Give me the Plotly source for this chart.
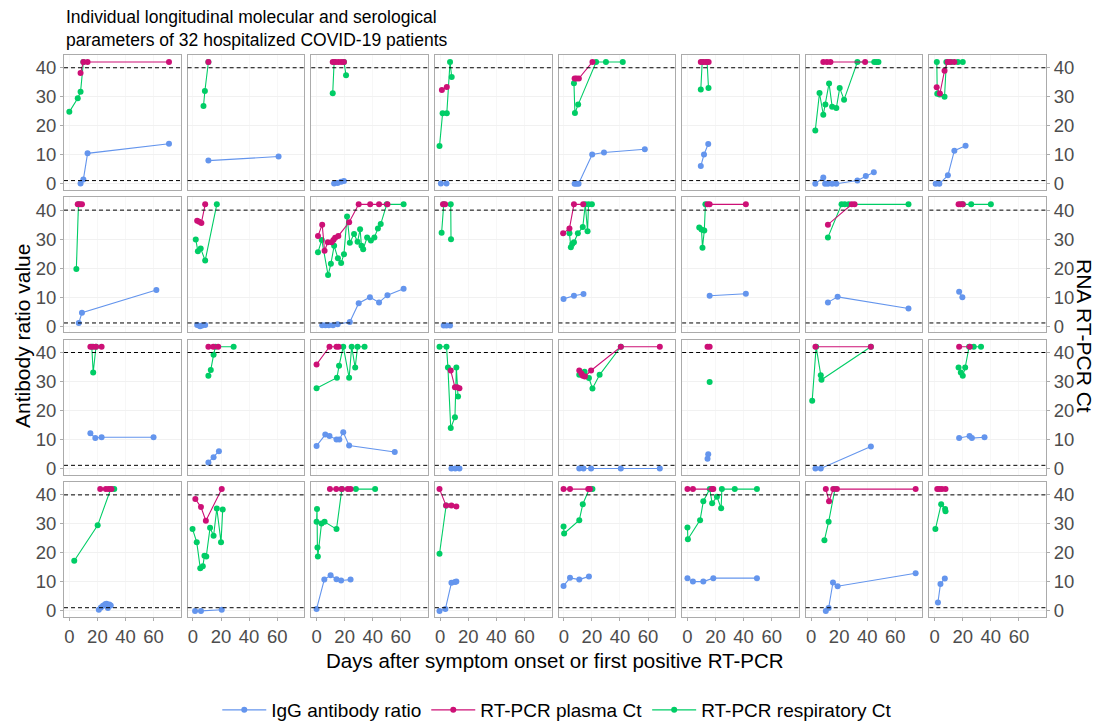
import plotly.graph_objects as go

# ---------------- data (one inner list per patient, row-major 4 x 8 facets) ----------------
igg_days = [
    [8, 10, 13, 71], [11, 61], [12.5, 15, 17.5, 19.5], [0.5, 4.5],
    [7.7, 9, 10.5, 20.2, 28.6, 57.7], [9.5, 11.8, 14.8], [3, 8.7, 10, 12, 15, 18, 33, 39, 44.7], [0.7, 3.3, 9.4, 14, 22],
    [6.7, 9, 62], [3, 5, 6.5, 8.7], [4, 6.3, 8.7, 11.7, 15, 23.7, 30, 38, 44.5, 50.5, 62], [2.5, 4.5, 7],
    [-0.2, 7.2, 14], [15.8, 41.6], [12, 18.9, 69.4], [17.4, 19.7],
    [15, 18.5, 23, 60], [11, 14.7, 18.5], [0, 6.2, 9.2, 14.2, 16.2, 19, 23.2, 55.7], [8, 10.7, 13.7],
    [11, 14, 19.4, 40.6, 68.4], [14.3, 14.8], [3.1, 6.9, 42.6], [17.4, 24.8, 26.5, 35.5],
    [21, 22.5, 24, 25.5, 26.5, 27.5, 28.5, 29.5], [1.5, 5.7, 20.5], [0, 5.5, 10, 14.2, 17.5, 24.2], [-0.5, 3.7, 8, 10.5, 11.5],
    [-0.2, 4.4, 11, 17.9], [0, 3.9, 11.3, 18.4, 49.5], [10.5, 12.5, 15.6, 18.9, 74.5], [2.3, 4.1, 7.2],
]
igg_vals = [
    [0.1, 1.5, 10.5, 13.8], [8.0, 9.4], [0.1, 0.3, 0.7, 1.0], [0.1, 0.1],
    [0, 0, 0, 10.1, 10.8, 11.9], [6.1, 10.1, 13.7], [0, 2.2, 0, 0, 0, 0, 1.1, 2.7, 4.0], [0, 0, 2.9, 11.4, 13.1],
    [1.1, 4.6, 12.5], [0.4, 0, 0.2, 0.4], [0.3, 0.3, 0.3, 0.3, 0.7, 1.4, 7.9, 10, 8.2, 10.7, 12.9], [0.2, 0.2, 0.2],
    [9.4, 10.5, 11.1], [10.5, 11.2], [8.2, 10.1, 6.1], [11.9, 10],
    [12.2, 10.5, 10.8, 10.8], [2.1, 3.9, 6], [7.8, 11.7, 11.2, 10, 10, 12.5, 7.9, 5.7], [0, 0, 0],
    [0, 0, 0, 0, 0], [3.4, 4.9], [0, 0, 7.6], [10.5, 11.2, 10.5, 10.8],
    [0.4, 1.2, 1.8, 2.3, 2.5, 1.0, 2.2, 1.9], [0, 0, 0.4], [0.7, 10.8, 12.3, 10.9, 10.5, 10.8], [0, 0.7, 9.7, 10, 10.1],
    [8.6, 11.4, 10.8, 11.9], [11.3, 10.1, 10.1, 11.3, 11.3], [0, 1, 9.8, 8.5, 13], [2.9, 9.3, 11.2],
]
plasma_days = [
    [8, 10, 13, 71], [11], [11.5, 13.5, 15.5, 17.5, 19.5], [1.2, 4.7],
    [7.7, 9, 10.7, 20.4], [9.5, 11.5, 13.3, 15.1], [8.7, 11.3, 13.8, 38.5], [1.4, 3.7, 7, 9.2, 11, 14],
    [6, 7.5, 9], [3, 4.5, 6, 8.7], [1, 4, 5.7, 8, 10.7, 12, 13.2, 15.5, 23.2, 30, 38.2, 44.5, 50.5], [2, 3.5],
    [-0.5, 4, 7.2, 13.8], [14.3, 15.8, 41.6], [12, 29, 31], [17, 18.4, 20],
    [15, 17, 19, 23], [11, 14.5, 18], [0, 9.2, 14.2, 15.7], [7.5, 10.5, 12, 13.7],
    [11, 12.5, 13.5, 15, 19.4, 40.6, 68.4], [14.3, 15.8], [3.1, 42.6], [17.4, 25],
    [22, 26, 28, 30], [1.7, 5.7, 9.2, 20.5], [9.5, 14, 18, 22.2, 24.2], [-0.5, 4.2, 8, 11.5],
    [-0.2, 4.4, 17.4, 18.6], [0, 3.9, 17.4, 18.4], [10.5, 12.8, 15.8, 18.4, 74.5], [1.8, 3.3, 5.1, 7.7],
]
plasma_vals = [
    [38.2, 42, 42, 42], [42], [42, 42, 42, 42, 42], [32.3, 33.4],
    [36.3, 36.3, 36.3, 42], [42, 42, 42, 42], [42, 42, 42, 42], [33.3, 31.1, 39, 42, 42, 42],
    [42, 42, 42], [36.3, 36, 35.6, 42], [31.1, 35, 26, 28.9, 28.9, 29.7, 30.5, 31.1, 35.8, 42, 42, 42, 42], [42, 42],
    [32, 33.7, 42, 42], [42, 42, 42], [35, 42, 42], [42, 42, 42],
    [42, 42, 42, 42], [42, 42, 42], [35.9, 42, 42, 42], [33.8, 28, 28, 27.7],
    [33.8, 32.8, 32, 31.7, 33.8, 42, 42], [42, 42], [42, 42], [42, 42],
    [42, 42, 42, 42], [38.6, 35.8, 31.1, 42], [42, 42, 42, 42, 42], [42, 36.3, 36.3, 36],
    [42, 42, 42, 42], [42, 42, 42, 42], [42, 37.8, 42, 42, 42], [42, 42, 42, 42],
]
resp_days = [
    [0, 6, 8, 10], [7.5, 8.5, 11], [11.5, 12.5, 19.5, 21], [-0.5, 1.7, 4.7, 7, 8.2],
    [7.2, 7.9, 10.2, 23, 30, 42], [9.5, 10.5, 14, 15], [3, 6, 8.7, 10.2, 12.8, 15, 18, 20.4, 23.5, 33, 45, 46.5, 48], [1.5, 1.8, 3.5, 7, 8.3, 12, 16.5, 20],
    [5, 6.5], [2, 3.5, 5.5, 8.7, 17],
    [1, 3.7, 8.2, 10.2, 12.5, 15.2, 17.5, 19.5, 21.7, 23.7, 26.7, 29.2, 31, 32, 33.2, 36, 38.7, 41.2, 43.7, 45.7, 50, 62],
    [1, 2.5, 7.5, 7.7],
    [4, 5, 6, 7.2, 10, 13.5, 15.3, 16.9, 17.6, 20], [8.4, 10, 10.7, 12, 12.8], [12, 21.7, 24, 26.8, 69.4], [20, 26, 40],
    [16, 17, 19], [11, 12.7, 14.7, 16, 29], [0, 14.5, 16, 19, 23.2, 25, 27.5, 29.2, 34.2], [-0.5, 4.5, 5.5, 7.5, 10.5, 11.5, 12.7],
    [11, 14.8, 17.9, 20.4, 25.5, 40.6], [15.8], [0.8, 3.6, 6.9, 7.4, 42.6], [17, 18.6, 20, 21.7, 24.5, 27.8, 33],
    [3.5, 20.2, 29.5, 32], [-0.3, 2.7, 5.2, 7, 8.2, 9.5, 12.2, 14.7, 17, 20, 21.2], [0, 0.3, 0.6, 0.9, 3.5, 5.7, 14.2, 18, 28, 41.7], [-0.5, 4.2],
    [-0.2, 0.2, 11, 13.5, 18.1, 20.4], [0, 0.3, 9, 11.3, 15.9, 17.6, 21, 24, 24.5, 33.7, 49.5], [9.5, 12.5, 17], [0.5, 4.6, 7.4, 7.7],
]
resp_vals = [
    [24.8, 29.5, 31.7, 42], [26.8, 32, 42], [31.2, 42, 42, 37.4], [13, 24.3, 24.3, 42, 36.8],
    [34.7, 24.4, 27.3, 42, 42, 42], [32.5, 42, 42, 33], [18.4, 31.3, 23.8, 27.3, 34.6, 26.6, 26.1, 33, 29, 42, 42, 42, 42], [42, 31, 30.8, 30, 42, 42, 42, 42],
    [19.7, 42], [29.9, 25.8, 26.8, 22.6, 42],
    [25.5, 29.7, 17.6, 21.5, 27.7, 23.4, 21.8, 24.8, 37.8, 28.8, 31.8, 29.1, 33.4, 27.7, 26.5, 30.6, 29.5, 30.6, 33.7, 35.2, 42, 42],
    [32.2, 42, 42, 30],
    [32, 27.2, 28.3, 28.9, 32, 34.2, 42, 32.7, 42, 42], [34, 33.3, 27, 33, 42], [30.6, 42, 42, 42, 42], [42, 42, 42],
    [42, 33.1, 42], [32, 34, 39.2, 42, 42], [27.7, 31.3, 35.4, 42, 31.3, 42, 34.8, 42, 42], [42, 42, 34.8, 14, 17.7, 34.8, 24.8],
    [32.3, 33.4, 31.2, 27.6, 32.3, 42], [29.8], [23.4, 42, 32.2, 30.6, 42], [34.8, 33.1, 32, 34.8, 42, 42, 42],
    [17.3, 29.5, 42, 42], [28.2, 23.7, 14.7, 15.4, 19, 18.8, 28.7, 25.9, 35.3, 23.7, 35], [30.7, 35.1, 21.9, 18.8, 30.1, 30.7, 28.2, 42, 42, 42], [19.7, 36.3],
    [29.1, 26.7, 31.3, 36.8, 42, 42], [28.8, 24.7, 31.3, 37.8, 42, 37.1, 39.4, 35.4, 42, 42, 42], [24.4, 30.7, 42], [28.2, 36.8, 35.1, 34.4],
]

y_ticks = [0, 10, 20, 30, 40]
x_ticks = [0, 20, 40, 60]
ct_cutoff = 40
igg_cutoff = 1.1

series_names = ["IgG antibody ratio", "RT-PCR plasma Ct", "RT-PCR respiratory Ct"]
series_colors = ["#6495ED", "#CD1076", "#00CD66"]

# ---------------- layout geometry ----------------
W, H = 1097, 726
ML, MR, MT, MB = 64, 51, 55, 109
NC, NR = 8, 4
GX, GY = 7, 7.5
PW_TOT = W - ML - MR
PH_TOT = H - MT - MB
pw = (PW_TOT - GX * (NC - 1)) / NC
ph = (PH_TOT - GY * (NR - 1)) / NR

FONT = "Arial, Liberation Sans, sans-serif"
BORDER = "#ABABAB"
GRID = "#F1F1F1"

fig = go.Figure()
layout = {}

for i in range(NR * NC):
    r, c = divmod(i, NC)
    n = i + 1
    xa = "x" if n == 1 else f"x{n}"
    ya = "y" if n == 1 else f"y{n}"
    x0 = c * (pw + GX) / PW_TOT
    x1 = (c * (pw + GX) + pw) / PW_TOT
    y1 = 1 - r * (ph + GY) / PH_TOT
    y0 = 1 - (r * (ph + GY) + ph) / PH_TOT

    series = [
        (igg_days[i], igg_vals[i]),
        (resp_days[i], resp_vals[i]),
        (plasma_days[i], plasma_vals[i]),
    ]
    order = [0, 2, 1]
    for k, (dx, dy) in zip(order, series):
        fig.add_trace(go.Scatter(
            x=dx, y=dy, mode="lines+markers", xaxis=xa, yaxis=ya,
            name=series_names[k], legendgroup=series_names[k], legendrank=k + 1,
            showlegend=(i == 0),
            line=dict(color=series_colors[k], width=1.1),
            marker=dict(color=series_colors[k], size=6),
            hoverinfo="skip",
        ))

    key = "" if n == 1 else str(n)
    bottom = r == NR - 1
    layout["xaxis" + key] = dict(
        domain=[x0, x1], anchor=ya, range=[-3.8, 79.3],
        tickvals=x_ticks, showticklabels=bottom,
        ticks="outside" if bottom else "", ticklen=3, tickcolor=BORDER,
        showgrid=True, gridcolor="#F7F7F7", gridwidth=1,
        showline=True, mirror=True, linecolor=BORDER, linewidth=1,
        zeroline=False, tickfont=dict(size=18.5, color="#4D4D4D", family=FONT),
    )
    side = "right" if c == NC - 1 else "left"
    show_y = c == 0 or c == NC - 1
    layout["yaxis" + key] = dict(
        domain=[y0, y1], anchor=xa, range=[-2.1, 44.4], side=side,
        tickvals=y_ticks, showticklabels=show_y,
        ticks="outside" if show_y else "", ticklen=3, tickcolor=BORDER,
        showgrid=True, gridcolor=GRID, gridwidth=1,
        showline=True, mirror=True, linecolor=BORDER, linewidth=1,
        zeroline=False, tickfont=dict(size=18.5, color="#4D4D4D", family=FONT),
    )
    for yv in (ct_cutoff, igg_cutoff):
        fig.add_shape(type="line", xref=f"{xa} domain", yref=ya, x0=0, x1=1, y0=yv, y1=yv,
                      line=dict(color="black", width=1, dash="4px,3px"), layer="above")

fig.update_layout(**layout)

fig.update_layout(
    width=W, height=H,
    margin=dict(l=ML, r=MR, t=MT, b=MB),
    paper_bgcolor="white", plot_bgcolor="white",
    font=dict(family=FONT, color="black"),
    legend=dict(
        orientation="h", xref="container", yref="container",
        x=0.508, xanchor="center", y=1 - 710 / H, yanchor="middle",
        font=dict(size=19, color="black", family=FONT),
        itemwidth=44, tracegroupgap=0,
        bgcolor="rgba(0,0,0,0)",
    ),
    annotations=[
        dict(text="Individual longitudinal molecular and serological<br>parameters of 32 hospitalized COVID-19 patients",
             xref="paper", yref="paper", x=0, xanchor="left", align="left",
             y=1 + (MT - 5) / PH_TOT, yanchor="top", showarrow=False,
             font=dict(size=17.5, color="black", family=FONT)),
        dict(text="Days after symptom onset or first positive RT-PCR", xref="paper", yref="paper",
             x=0.5, y=-(660 - (H - MB)) / PH_TOT, xanchor="center", yanchor="middle", showarrow=False,
             font=dict(size=20.5, color="black", family=FONT)),
        dict(text="Antibody ratio value", xref="paper", yref="paper",
             x=-(ML - 22) / PW_TOT, y=0.5, xanchor="center", yanchor="middle", textangle=-90, showarrow=False,
             font=dict(size=21, color="black", family=FONT)),
        dict(text="RNA RT-PCR Ct", xref="paper", yref="paper",
             x=1 + (1085 - (W - MR)) / PW_TOT, y=0.5, xanchor="center", yanchor="middle", textangle=90, showarrow=False,
             font=dict(size=21, color="black", family=FONT)),
    ],
)

fig.write_html("out.html")
